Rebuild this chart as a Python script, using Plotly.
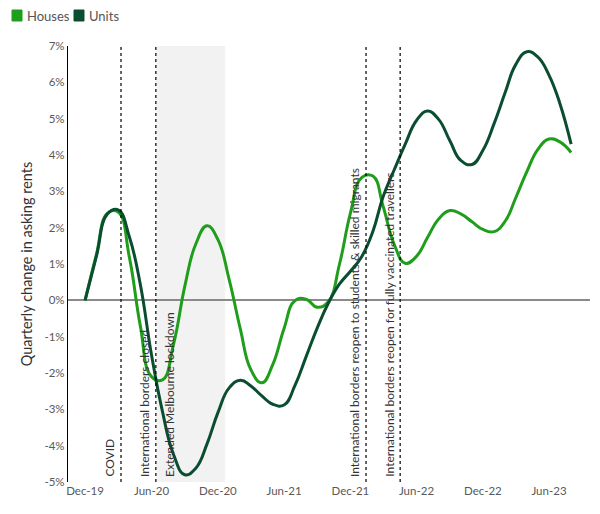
import plotly.graph_objects as go

# ── Data (quarterly change in asking rents, %, monthly readings) ─────────
months = [
    "2019-12-01", "2020-01-01", "2020-02-01", "2020-03-01", "2020-04-01", "2020-05-01",
    "2020-06-01", "2020-07-01", "2020-08-01", "2020-09-01", "2020-10-01", "2020-11-01",
    "2020-12-01", "2021-01-01", "2021-02-01", "2021-03-01", "2021-04-01", "2021-05-01",
    "2021-06-01", "2021-07-01", "2021-08-01", "2021-09-01", "2021-10-01", "2021-11-01",
    "2021-12-01", "2022-01-01", "2022-02-01", "2022-03-01", "2022-04-01", "2022-05-01",
    "2022-06-01", "2022-07-01", "2022-08-01", "2022-09-01", "2022-10-01", "2022-11-01",
    "2022-12-01", "2023-01-01", "2023-02-01", "2023-03-01", "2023-04-01", "2023-05-01",
    "2023-06-01", "2023-07-01", "2023-08-01",
]
houses = [
    0.00, 1.25, 2.40, 2.43, 1.19, -0.69,
    -2.10, -2.19, -1.20, 0.40, 1.55, 2.05,
    1.67, 0.57, -0.80, -1.89, -2.27, -1.77,
    -0.78, -0.01, 0.03, -0.19, -0.04, 1.00,
    2.40, 3.38, 3.42, 2.59, 1.53, 1.02,
    1.21, 1.72, 2.24, 2.47, 2.38, 2.16,
    1.95, 1.89, 2.19, 2.81, 3.54, 4.15,
    4.44, 4.36, 4.07,
]
units = [
    0.00, 1.20, 2.38, 2.49, 1.75, 0.45,
    -1.50, -3.05, -4.25, -4.80, -4.62, -3.95,
    -3.09, -2.41, -2.20, -2.35, -2.63, -2.86,
    -2.88, -2.35, -1.55, -0.75, -0.08, 0.45,
    0.80, 1.20, 1.90, 2.85, 3.60, 4.30,
    4.95, 5.21, 4.98, 4.39, 3.85, 3.74,
    4.13, 4.87, 5.74, 6.48, 6.84, 6.70,
    6.20, 5.42, 4.30,
]

tick_dates = ["2019-12-01", "2020-06-01", "2020-12-01", "2021-06-01",
              "2021-12-01", "2022-06-01", "2022-12-01", "2023-06-01"]
tick_text = ["Dec-19", "Jun-20", "Dec-20", "Jun-21", "Dec-21", "Jun-22", "Dec-22", "Jun-23"]

events = [
    ("2020-03-09", "COVID", "right"),
    ("2020-06-13", "International borders closed", "right"),
    ("2020-06-13", "Extended Melbourne lockdown", "left"),
    ("2022-01-13", "International borders reopen to students & skilled migrants", "right"),
    ("2022-04-17", "International borders reopen for fully vaccinated travellers", "right"),
]
lockdown = ("2020-06-14", "2020-12-21")

HOUSE_C = "#1f9e1c"
UNIT_C = "#0b4d30"
FONT = "Lato"

# plot box in figure pixels (page adds an 8px body margin)
W, H = 592, 506
L, R, T, B = 60, 10, 38, 32
PW, PH = W - L - R, H - T - B


def px(fx):  # figure px -> paper x
    return (fx - L) / PW


def py(fy):  # figure px -> paper y
    return 1 + (T - fy) / PH


fig = go.Figure()

for name, vals, col in [("Houses", houses, HOUSE_C), ("Units", units, UNIT_C)]:
    fig.add_trace(go.Scatter(x=months, y=vals, mode="lines", name=name, showlegend=False,
                             line=dict(color=col, width=3, shape="spline", smoothing=1.3)))

# shaded lockdown period
fig.add_shape(type="rect", xref="x", yref="paper", x0=lockdown[0], x1=lockdown[1],
              y0=0, y1=1, fillcolor="#f2f2f2", line_width=0, layer="below")

seen = set()
for d, label, side in events:
    if d not in seen:
        fig.add_shape(type="line", xref="x", yref="paper", x0=d, x1=d, y0=0, y1=1,
                      line=dict(color="black", width=1.2, dash="dot"))
        seen.add(d)
    fig.add_annotation(x=d, y=-4.92, xref="x", yref="y", text=label, textangle=-90,
                       showarrow=False, xanchor=side, yanchor="bottom",
                       xshift=-2 if side == "right" else 4,
                       font=dict(family=FONT, size=12, color="#333"))

# hand-made legend: rounded swatch + label
for (x0, name, col) in [(4, "Houses", HOUSE_C), (66, "Units", UNIT_C)]:
    fig.add_shape(type="rect", xref="paper", yref="paper",
                  x0=px(x0), x1=px(x0 + 10), y0=py(13), y1=py(2),
                  fillcolor=col, line=dict(color=col, width=1))
    fig.add_annotation(x=px(x0 + 13), y=py(7.5), xref="paper", yref="paper",
                       text=name, showarrow=False, xanchor="left", yanchor="middle",
                       font=dict(family=FONT, size=13, color="#555"))

fig.update_layout(
    width=W, height=H,
    margin=dict(l=L, r=R, t=T, b=B, autoexpand=False),
    paper_bgcolor="white", plot_bgcolor="white",
    font=dict(family=FONT, color="#595959"),
    showlegend=False,
    xaxis=dict(type="date", range=["2019-10-15", "2023-09-22"], tickvals=tick_dates,
               ticktext=tick_text, showgrid=False, showline=False, zeroline=False,
               tickfont=dict(size=11.5, color="#595959"), ticks="", automargin=False),
    yaxis=dict(range=[-5, 7], tickvals=list(range(-5, 8)),
               ticktext=[f"{v}%" for v in range(-5, 8)],
               showgrid=False, showline=True, linecolor="black", linewidth=1.2,
               zeroline=True, zerolinecolor="#8a8a8a", zerolinewidth=1.5,
               tickfont=dict(size=11.5, color="#595959"), automargin=False,
               title=dict(text="Quarterly change in asking rents",
                          font=dict(size=14.5, color="#333"), standoff=8)),
)

fig.write_html("out.html")
